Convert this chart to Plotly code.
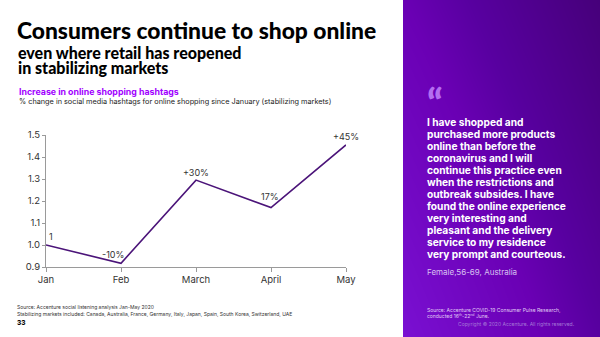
import plotly.graph_objects as go

months = ["Jan", "Feb", "March", "April", "May"]
values = [1.00, 0.917, 1.295, 1.17, 1.455]
point_labels = ["1", "-10%", "+30%", "17%", "+45%"]
y_ticks = [0.9, 1.0, 1.1, 1.2, 1.3, 1.4, 1.5]

quote_lines = [
    "I have shopped and",
    "purchased more products",
    "online than before the",
    "coronavirus and I will",
    "continue this practice even",
    "when the restrictions and",
    "outbreak subsides. I have",
    "found the online experience",
    "very interesting and",
    "pleasant and the delivery",
    "service to my residence",
    "very prompt and courteous.",
]

W, H = 600, 337
FONT = "Inter"
TITLE_FONT = "Lato"
LINE_COLOR = "#4b1479"
AXIS_COLOR = "#9a9a9a"
TEXT_COLOR = "#333333"


def px(x):
    return x / W


def py(y):
    return 1 - y / H


fig = go.Figure()

# purple gradient panel (background decoration)
fig.add_trace(go.Heatmap(
    z=[[0, 1.4], [1, 2.2]], x=[0, 1], y=[0, 1],
    zsmooth="best", showscale=False, hoverinfo="skip",
    zmin=0, zmax=2.2,
    colorscale=[[0, "#7a10d2"], [1 / 2.2, "#6a00b4"], [1.4 / 2.2, "#5800a0"], [1, "#46007a"]],
    xaxis="x2", yaxis="y2",
))

fig.add_trace(go.Scatter(
    x=months, y=values, mode="lines",
    line=dict(color=LINE_COLOR, width=1.6),
    hoverinfo="skip", showlegend=False,
))

# data labels
offsets = [(5, 8), (-8, 9), (0, 8), (-1, 11), (0, 8)]
annotations = []
for m, v, lab, (dx, dy) in zip(months, values, point_labels, offsets):
    annotations.append(dict(
        x=m, y=v, xref="x", yref="y", text=lab, showarrow=False,
        xshift=dx, yshift=dy, font=dict(family=FONT, size=9, color=TEXT_COLOR),
    ))


def txt(x, y, text, size, color, weight=400, xanchor="left", yanchor="middle", family=FONT):
    annotations.append(dict(
        x=px(x), y=py(y), xref="paper", yref="paper", text=text,
        showarrow=False, xanchor=xanchor, yanchor=yanchor,
        font=dict(family=family, size=size, color=color, weight=weight),
    ))


# titles
txt(15, 46, "Consumers continue to shop online", 22.8, "#000000", 900, yanchor="bottom", family=TITLE_FONT)
txt(16, 63.5, "even where retail has reopened", 16, "#000000", 900, yanchor="bottom", family=TITLE_FONT)
txt(16, 79, "in stabilizing markets", 16, "#000000", 900, yanchor="bottom", family=TITLE_FONT)
txt(17, 91.5, "Increase in online shopping hashtags", 8.8, "#a100ff", 700)
txt(17, 101, "% change in social media hashtags for online shopping since January (stabilizing markets)", 7.3, "#222222")

# quote panel
txt(425, 103, "\u201c", 40, "#b46ef0", 900, family="Lato")
for i, line in enumerate(quote_lines):
    txt(425, 122 + i * 12.05, line, 10.2, "#ffffff", 700)
txt(425, 271.5, "Female,56-69, Australia", 8, "#d9c2f2")

# footers
txt(15, 306.5, "Source: Accenture social listening analysis Jan-May 2020", 5, "#333333")
txt(15, 314, "Stabilizing markets included: Canada, Australia, France, Germany, Italy, Japan, Spain, South Korea, Switzerland, UAE", 5, "#333333")
txt(15, 323, "33", 6.5, "#000000", 800)
txt(425, 309.5, "Source: Accenture COVID-19 Consumer Pulse Research,", 5, "#e0ccf5")
txt(425, 316, "conducted 16<sup>th</sup>-22<sup>nd</sup> June.", 5, "#e0ccf5")
txt(577, 324, "Copyright \u00a9 2020 Accenture. All rights reserved.", 5, "#a678d8", xanchor="right")

fig.update_layout(
    width=W, height=H,
    margin=dict(l=0, r=0, t=0, b=0, pad=0),
    paper_bgcolor="#ffffff", plot_bgcolor="rgba(0,0,0,0)",
    showlegend=False,
    annotations=annotations,
    xaxis=dict(
        domain=[px(46), px(346)], type="category", range=[0, 4],
        automargin=False,
        showgrid=False, zeroline=False,
        showline=True, linecolor=AXIS_COLOR, linewidth=1,
        ticks="outside", ticklen=4, tickcolor=AXIS_COLOR,
        tickfont=dict(family=FONT, size=9.5, color=TEXT_COLOR),
    ),
    yaxis=dict(
        domain=[py(267), py(135)], range=[0.9, 1.5],
        automargin=False,
        tickvals=y_ticks, tickformat=".1f",
        showgrid=False, zeroline=False,
        showline=True, linecolor=AXIS_COLOR, linewidth=1,
        ticks="outside", ticklen=3, tickcolor=AXIS_COLOR,
        tickfont=dict(family=FONT, size=9.5, color=TEXT_COLOR),
    ),
    xaxis2=dict(domain=[px(403), 1], range=[0, 1], visible=False, anchor="y2", automargin=False),
    yaxis2=dict(domain=[0, 1], range=[0, 1], visible=False, anchor="x2", automargin=False),
)

fig.write_html("out.html")
